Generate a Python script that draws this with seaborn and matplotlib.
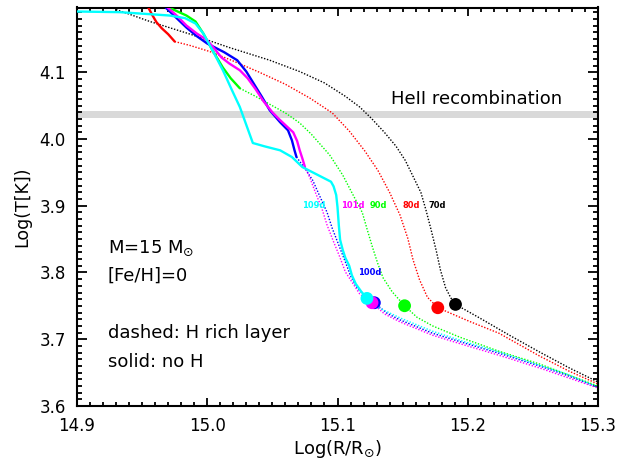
import matplotlib
matplotlib.use("Agg")
import matplotlib.pyplot as plt
from matplotlib.ticker import MultipleLocator
import pandas as pd
import seaborn as sns

# ---- model epochs and colours ----
days = ["70d", "80d", "90d", "100d", "101d", "109d"]
colors = {"70d": "#000000", "80d": "#ff0000", "90d": "#00ff00",
          "100d": "#0000ff", "101d": "#ff00ff", "109d": "#00ffff"}

# ---- envelopes with an H-rich layer (dotted) ----
hrich_70d_x = [14.930, 14.956, 14.987, 15.017, 15.048, 15.071, 15.090, 15.106, 15.117, 15.126,
               15.136, 15.145, 15.152, 15.158, 15.164, 15.168, 15.172, 15.176, 15.179, 15.183,
               15.187, 15.1906, 15.209, 15.232, 15.255, 15.278, 15.300]
hrich_70d_y = [4.194, 4.176, 4.157, 4.137, 4.118, 4.101, 4.084, 4.064, 4.048, 4.031,
               4.010, 3.989, 3.968, 3.944, 3.920, 3.893, 3.863, 3.831, 3.804, 3.777,
               3.762, 3.7522, 3.732, 3.706, 3.681, 3.657, 3.636]

hrich_80d_x = [14.975, 14.987, 15.002, 15.021, 15.040, 15.060, 15.079, 15.096, 15.109, 15.121,
               15.131, 15.140, 15.148, 15.154, 15.158, 15.163, 15.169, 15.177, 15.201, 15.224,
               15.255, 15.278, 15.300]
hrich_80d_y = [4.146, 4.140, 4.131, 4.116, 4.100, 4.082, 4.061, 4.039, 4.012, 3.982,
               3.953, 3.920, 3.886, 3.851, 3.819, 3.789, 3.763, 3.7472, 3.727, 3.709,
               3.675, 3.652, 3.633]

hrich_90d_x = [15.025, 15.037, 15.048, 15.060, 15.071, 15.080, 15.094, 15.104, 15.112, 15.119,
               15.123, 15.127, 15.131, 15.135, 15.142, 15.1515, 15.161, 15.173, 15.194, 15.224,
               15.255, 15.278, 15.300]
hrich_90d_y = [4.076, 4.064, 4.052, 4.039, 4.024, 4.007, 3.976, 3.946, 3.916, 3.890,
               3.863, 3.837, 3.813, 3.792, 3.771, 3.7502, 3.733, 3.720, 3.703, 3.682,
               3.663, 3.646, 3.630]

hrich_100d_x = [15.0685, 15.075, 15.081, 15.086, 15.092, 15.096, 15.101, 15.106, 15.110, 15.115,
                15.122, 15.1283, 15.138, 15.148, 15.173, 15.198, 15.224, 15.255, 15.276, 15.300]
hrich_100d_y = [3.973, 3.956, 3.938, 3.916, 3.890, 3.866, 3.841, 3.816, 3.795, 3.777,
                3.763, 3.7547, 3.739, 3.729, 3.709, 3.694, 3.679, 3.660, 3.646, 3.628]

hrich_101d_x = [15.075, 15.079, 15.083, 15.088, 15.092, 15.097, 15.102, 15.106, 15.112, 15.117,
                15.122, 15.1265, 15.136, 15.148, 15.173, 15.198, 15.224, 15.255, 15.276, 15.300]
hrich_101d_y = [3.958, 3.941, 3.920, 3.896, 3.871, 3.846, 3.822, 3.801, 3.783, 3.768,
                3.760, 3.7547, 3.738, 3.726, 3.706, 3.691, 3.676, 3.657, 3.643, 3.627]

hrich_109d_x = [15.1226, 15.132, 15.148, 15.173, 15.198, 15.224, 15.255, 15.276, 15.300]
hrich_109d_y = [3.7612, 3.747, 3.732, 3.712, 3.696, 3.681, 3.661, 3.648, 3.628]

# ---- envelopes without hydrogen (solid) ----
noh_80d_x = [14.953, 14.955, 14.958, 14.961, 14.965, 14.970, 14.975]
noh_80d_y = [4.203, 4.196, 4.185, 4.175, 4.166, 4.157, 4.146]

noh_90d_x = [14.964, 14.969, 14.975, 14.984, 14.991, 14.997, 15.004, 15.012, 15.018, 15.025]
noh_90d_y = [4.203, 4.198, 4.193, 4.185, 4.176, 4.158, 4.133, 4.107, 4.091, 4.076]

noh_100d_x = [14.9644, 14.9675, 14.976, 14.984, 14.992, 15.000, 15.006, 15.013, 15.023, 15.030,
              15.036, 15.042, 15.048, 15.056, 15.062, 15.065, 15.067, 15.0685]
noh_100d_y = [4.203, 4.198, 4.182, 4.167, 4.154, 4.143, 4.137, 4.130, 4.118, 4.101,
              4.082, 4.063, 4.043, 4.025, 4.013, 3.998, 3.983, 3.973]

noh_101d_x = [14.965, 14.969, 14.977, 14.984, 14.992, 15.000, 15.006, 15.011, 15.017, 15.025,
              15.031, 15.037, 15.043, 15.050, 15.055, 15.061, 15.066, 15.069, 15.071, 15.073, 15.075]
noh_101d_y = [4.203, 4.198, 4.184, 4.170, 4.158, 4.148, 4.134, 4.122, 4.113, 4.103,
              4.091, 4.075, 4.057, 4.040, 4.030, 4.019, 4.010, 3.997, 3.983, 3.971, 3.958]

noh_109d_x = [14.900, 14.933, 14.971, 14.983, 14.991, 14.997, 15.004, 15.012, 15.019, 15.025,
              15.030, 15.035, 15.044, 15.056, 15.065, 15.073, 15.085, 15.095, 15.097, 15.099,
              15.100, 15.101, 15.102, 15.104, 15.106, 15.109, 15.111, 15.114, 15.118, 15.1226]
noh_109d_y = [4.191, 4.190, 4.185, 4.181, 4.173, 4.158, 4.133, 4.103, 4.073, 4.048,
              4.021, 3.994, 3.989, 3.983, 3.973, 3.958, 3.946, 3.936, 3.929, 3.916,
              3.898, 3.871, 3.849, 3.834, 3.822, 3.810, 3.796, 3.783, 3.772, 3.7612]

# ---- photospheric points ----
phot_x = {"70d": 15.1906, "80d": 15.177, "90d": 15.1515, "100d": 15.1283, "101d": 15.1265, "109d": 15.1226}
phot_y = {"70d": 3.7522, "80d": 3.7472, "90d": 3.7502, "100d": 3.7547, "101d": 3.7547, "109d": 3.7612}

# ---- epoch labels ----
label_x = {"70d": 15.1765, "80d": 15.1564, "90d": 15.1313, "100d": 15.1247, "101d": 15.1116, "109d": 15.0818}
label_y = {"70d": 3.8964, "80d": 3.8964, "90d": 3.8964, "100d": 3.796, "101d": 3.8964, "109d": 3.8964}

hrich = {"70d": (hrich_70d_x, hrich_70d_y), "80d": (hrich_80d_x, hrich_80d_y),
         "90d": (hrich_90d_x, hrich_90d_y), "100d": (hrich_100d_x, hrich_100d_y),
         "101d": (hrich_101d_x, hrich_101d_y), "109d": (hrich_109d_x, hrich_109d_y)}
noh = {"80d": (noh_80d_x, noh_80d_y), "90d": (noh_90d_x, noh_90d_y),
       "100d": (noh_100d_x, noh_100d_y), "101d": (noh_101d_x, noh_101d_y),
       "109d": (noh_109d_x, noh_109d_y)}

# HeII recombination temperature band
he_band = (4.032, 4.042)

sns.set_style("ticks")
plt.rcParams["font.family"] = ["DejaVu Sans"]
plt.rcParams.update({"text.color": "black", "axes.labelcolor": "black",
                     "xtick.color": "black", "ytick.color": "black",
                     "axes.edgecolor": "black", "axes.linewidth": 1.5})

fig = plt.figure(figsize=(6.2, 4.67), dpi=100)
ax = fig.add_axes([77 / 620, 1 - 406 / 467, 521 / 620, 398.5 / 467])

ax.axhspan(he_band[0], he_band[1], color="#d9d9d9", lw=0, zorder=0)

for d in days:
    x, y = hrich[d]
    df = pd.DataFrame({"x": x, "y": y})
    sns.lineplot(data=df, x="x", y="y", ax=ax, sort=False, estimator=None,
                 color=colors[d], lw=1.0, linestyle=(0, (1, 1.2)), zorder=2)

for d in ["80d", "90d", "100d", "101d", "109d"]:
    x, y = noh[d]
    df = pd.DataFrame({"x": x, "y": y})
    sns.lineplot(data=df, x="x", y="y", ax=ax, sort=False, estimator=None,
                 color=colors[d], lw=1.7, zorder=3)

for d in days:
    sns.scatterplot(x=[phot_x[d]], y=[phot_y[d]], ax=ax, color=colors[d],
                    s=85, edgecolor="none", zorder=4)

for d in days:
    ax.text(label_x[d], label_y[d], d, color=colors[d], fontsize=6, fontweight="bold",
            ha="center", va="baseline")

note_size = 13
ax.text(15.1413, 4.052, "HeII recombination", fontsize=note_size, ha="left", va="baseline")
ax.text(14.9238, 3.829, r"M=15 M$_{\odot}$", fontsize=note_size, ha="left", va="baseline")
ax.text(14.9238, 3.7871, "[Fe/H]=0", fontsize=note_size, ha="left", va="baseline")
ax.text(14.9238, 3.7018, "dashed: H rich layer", fontsize=note_size, ha="left", va="baseline")
ax.text(14.9238, 3.6584, "solid: no H", fontsize=note_size, ha="left", va="baseline")

ax.set_xlim(14.9, 15.3)
ax.set_ylim(3.6, 4.197)
ax.xaxis.set_minor_locator(MultipleLocator(0.01))
ax.yaxis.set_minor_locator(MultipleLocator(0.01))
ax.set_xticks([14.9, 15.0, 15.1, 15.2, 15.3])
ax.set_xticklabels(["14.9", "15.0", "15.1", "15.2", "15.3"])
ax.set_yticks([3.6, 3.7, 3.8, 3.9, 4.0, 4.1])
ax.set_yticklabels(["3.6", "3.7", "3.8", "3.9", "4.0", "4.1"])
ax.tick_params(axis="both", which="both", direction="in", top=True, right=True,
               labelsize=12, width=1.3, colors="black", pad=8)
ax.tick_params(axis="x", which="major", length=6)
ax.tick_params(axis="x", which="minor", length=3)
ax.tick_params(axis="y", which="major", length=7.5)
ax.tick_params(axis="y", which="minor", length=3.5)
for s in ax.spines.values():
    s.set_visible(True)
    s.set_linewidth(1.5)
    s.set_color("black")

ax.set_xlabel(r"Log(R/R$_{\odot}$)", fontsize=13, labelpad=2)
ax.set_ylabel("Log(T[K])", fontsize=12.5, labelpad=6)

fig.savefig("out.png", dpi=100)
